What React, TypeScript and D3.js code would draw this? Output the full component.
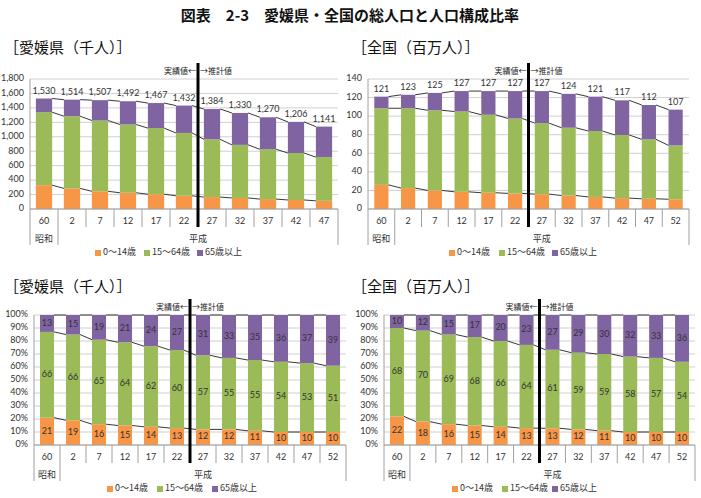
import React from "react";
import * as d3 from "d3";

const categories = ["60", "2", "7", "12", "17", "22", "27", "32", "37", "42", "47", "52"];
const eraLabels = ["昭和", "平成"];
const seriesNames = ["0～14歳", "15～64歳", "65歳以上"];
const seriesColors = ["#F79646", "#9BBB59", "#8064A2"];
const chartTitle = "図表　2-3　愛媛県・全国の総人口と人口構成比率";
const ehimeTitle = "［愛媛県（千人）］";
const japanTitle = "［全国（百万人）］";
const dividerLeft = "実績値←";
const dividerRight = "→推計値";

// 愛媛県 (千人) — 11 categories (昭和60 … 平成47)
const ehimeYoung = [330, 285, 245, 225, 205, 183, 165, 153, 137, 125, 113];
const ehimeWorking = [1010, 1000, 980, 945, 915, 870, 800, 735, 690, 650, 605];
const ehimeElderly = [190, 229, 282, 322, 347, 379, 419, 442, 443, 431, 423];
const ehimeTotal = [1530, 1514, 1507, 1492, 1467, 1432, 1384, 1330, 1270, 1206, 1141];

// 全国 (百万人) — 12 categories
const japanYoung = [26, 22.5, 20, 18.5, 17.5, 16.8, 16, 14.5, 13, 11.7, 11, 10.5];
const japanWorking = [82.5, 86, 86.3, 86.5, 84, 80.7, 76.5, 73, 71, 68, 64, 58];
const japanElderly = [12.5, 14.5, 18.7, 22, 25.5, 29.5, 34.5, 36.5, 37, 37.3, 37, 38.5];
const japanTotal = [121, 123, 125, 127, 127, 127, 127, 124, 121, 117, 112, 107];

// 構成比 (%)
const ehimeYoungPct = [21, 19, 16, 15, 14, 13, 12, 12, 11, 10, 10, 10];
const ehimeWorkingPct = [66, 66, 65, 64, 62, 60, 57, 55, 55, 54, 53, 51];
const ehimeElderlyPct = [13, 15, 19, 21, 24, 27, 31, 33, 35, 36, 37, 39];
const japanYoungPct = [22, 18, 16, 15, 14, 13, 13, 12, 11, 10, 10, 10];
const japanWorkingPct = [68, 70, 69, 68, 66, 64, 61, 59, 59, 58, 57, 54];
const japanElderlyPct = [10, 12, 15, 17, 20, 23, 27, 29, 30, 32, 33, 36];

const yTicksEhime = [0, 200, 400, 600, 800, 1000, 1200, 1400, 1600, 1800];
const yTicksJapan = [0, 20, 40, 60, 80, 100, 120, 140];
const yTicksPct = [0, 10, 20, 30, 40, 50, 60, 70, 80, 90, 100];

const NUM_FONT = "Lato, 'Noto Sans', sans-serif";
const JP_FONT = "'Noto Sans CJK JP', sans-serif";

type PanelProps = {
  title: string;
  titleX: number;
  titleY: number;
  cats: string[];
  series: number[][];
  segLabels?: number[][];
  totals?: number[];
  percent: boolean;
  ticks: number[];
  tickFmt: (v: number) => string;
  x0: number;
  x1: number;
  yTop: number;
  yBot: number;
  barRatio: number;
  legendX: number[];
  dividerIndex: number;
};

function Panel(p: PanelProps) {
  const n = p.cats.length;
  const keys = p.cats.map((c, i) => i + ":" + c);
  const x = d3
    .scaleBand<string>()
    .domain(keys)
    .range([p.x0, p.x1])
    .paddingInner(1 - p.barRatio)
    .paddingOuter((1 - p.barRatio) / 2);
  const band = (p.x1 - p.x0) / n;
  const bw = x.bandwidth();
  const maxV = p.ticks[p.ticks.length - 1];
  const y = d3.scaleLinear().domain([0, maxV]).range([p.yBot, p.yTop]);

  const rows = keys.map((k, i) => {
    const vals = p.series.map((s) => s[i]);
    const sum = d3.sum(vals);
    return p.percent ? vals.map((v) => (v / sum) * 100) : vals;
  });
  const cum = rows.map((r) => {
    let acc = 0;
    return r.map((v) => {
      const a = acc;
      acc += v;
      return [a, acc];
    });
  });

  const divX = p.x0 + p.dividerIndex * band;
  const axisY = p.yBot;

  return (
    <g>
      <text x={p.titleX} y={p.titleY} fontFamily={JP_FONT} fontSize={15} fill="#111" dominantBaseline="middle">
        {p.title}
      </text>
      {p.ticks.map((t) => (
        <line key={"g" + t} x1={p.x0} x2={p.x1} y1={y(t)} y2={y(t)} stroke="#D0D0D0" strokeWidth={1} />
      ))}
      {p.ticks.map((t) => (
        <text
          key={"yl" + t}
          x={p.x0 - 6}
          y={y(t)}
          textAnchor="end"
          dominantBaseline="middle"
          fontFamily={NUM_FONT}
          fontSize={9}
          fill="#333"
        >
          {p.tickFmt(t)}
        </text>
      ))}
      {keys.map((k, i) =>
        cum[i].map(([a, b], s) => (
          <rect
            key={k + s}
            x={x(k)}
            y={y(b)}
            width={bw}
            height={Math.max(0, y(a) - y(b))}
            fill={seriesColors[s]}
          />
        ))
      )}
      {[0, 1, 2].map((s) =>
        keys.slice(0, n - 1).map((k, i) => (
          <line
            key={"sl" + s + k}
            x1={(x(k) as number) + bw}
            y1={y(cum[i][s][1])}
            x2={x(keys[i + 1]) as number}
            y2={y(cum[i + 1][s][1])}
            stroke="#222"
            strokeWidth={0.9}
          />
        ))
      )}
      {p.segLabels &&
        keys.map((k, i) =>
          cum[i].map(([a, b], s) => (
            <text
              key={"lab" + k + s}
              x={(x(k) as number) + bw / 2}
              y={y((a + b) / 2)}
              textAnchor="middle"
              dominantBaseline="middle"
              fontFamily={NUM_FONT}
              fontSize={9}
              fill="#333"
            >
              {p.segLabels![s][i]}
            </text>
          ))
        )}
      {p.totals &&
        keys.map((k, i) => (
          <text
            key={"tot" + k}
            x={(x(k) as number) + bw / 2}
            y={y(p.totals![i]) - 5}
            textAnchor="middle"
            fontFamily={NUM_FONT}
            fontSize={9}
            fill="#333"
          >
            {d3.format(",")(p.totals![i])}
          </text>
        ))}
      <line x1={p.x0} x2={p.x0} y1={p.yTop} y2={axisY} stroke="#A0A0A0" />
      <line x1={p.x0} x2={p.x1} y1={axisY} y2={axisY} stroke="#A0A0A0" />
      {d3.range(n + 1).map((i) => {
        const long = i === 0 || i === 1 || i === n;
        const xx = p.x0 + i * band;
        return <line key={"sep" + i} x1={xx} x2={xx} y1={axisY} y2={axisY + (long ? 36 : 18)} stroke="#A0A0A0" />;
      })}
      {keys.map((k, i) => (
        <text
          key={"cat" + k}
          x={p.x0 + (i + 0.5) * band}
          y={axisY + 13}
          textAnchor="middle"
          dominantBaseline="middle"
          fontFamily={NUM_FONT}
          fontSize={9}
          fill="#333"
        >
          {p.cats[i]}
        </text>
      ))}
      <text
        x={p.x0 + 0.5 * band}
        y={axisY + 31}
        textAnchor="middle"
        dominantBaseline="middle"
        fontFamily={JP_FONT}
        fontSize={9}
        fill="#333"
      >
        {eraLabels[0]}
      </text>
      <text
        x={p.x0 + band + ((n - 1) * band) / 2}
        y={axisY + 31}
        textAnchor="middle"
        dominantBaseline="middle"
        fontFamily={JP_FONT}
        fontSize={9}
        fill="#333"
      >
        {eraLabels[1]}
      </text>
      <line x1={divX} x2={divX} y1={p.yTop - 16} y2={axisY + 18} stroke="#000" strokeWidth={3} />
      <text
        x={divX - 2}
        y={p.yTop - 7}
        textAnchor="end"
        dominantBaseline="middle"
        fontFamily={JP_FONT}
        fontSize={8}
        fill="#222"
      >
        {dividerLeft}
      </text>
      <text
        x={divX + 2}
        y={p.yTop - 7}
        textAnchor="start"
        dominantBaseline="middle"
        fontFamily={JP_FONT}
        fontSize={8}
        fill="#222"
      >
        {dividerRight}
      </text>
      {seriesNames.map((nm, s) => (
        <g key={"lg" + s}>
          <rect x={p.legendX[s]} y={axisY + 41} width={6} height={6} fill={seriesColors[s]} />
          <text
            x={p.legendX[s] + 8}
            y={axisY + 44}
            dominantBaseline="middle"
            fontFamily={JP_FONT}
            fontSize={9}
            fill="#333"
          >
            {nm}
          </text>
        </g>
      ))}
    </g>
  );
}

export default function App() {
  const comma = d3.format(",");
  const pct = (v: number) => v + "%";
  const plain = (v: number) => String(v);
  return (
    <svg
      width={701}
      height={498}
      style={{ position: "absolute", left: 0, top: 0, background: "#fff" }}
      xmlns="http://www.w3.org/2000/svg"
    >
      <rect x={0} y={0} width={701} height={498} fill="#fff" />
      <text
        x={350}
        y={17}
        textAnchor="middle"
        dominantBaseline="middle"
        fontFamily={JP_FONT}
        fontWeight="bold"
        fontSize={15}
        fill="#111"
      >
        {chartTitle}
      </text>
      <Panel
        title={ehimeTitle}
        titleX={4}
        titleY={49}
        cats={categories.slice(0, 11)}
        series={[ehimeYoung, ehimeWorking, ehimeElderly]}
        totals={ehimeTotal}
        percent={false}
        ticks={yTicksEhime}
        tickFmt={comma}
        x0={30}
        x1={338}
        yTop={79}
        yBot={209}
        barRatio={0.58}
        legendX={[95, 144, 197]}
        dividerIndex={6}
      />
      <Panel
        title={japanTitle}
        titleX={352}
        titleY={49}
        cats={categories}
        series={[japanYoung, japanWorking, japanElderly]}
        totals={japanTotal}
        percent={false}
        ticks={yTicksJapan}
        tickFmt={plain}
        x0={368}
        x1={689}
        yTop={79}
        yBot={209}
        barRatio={0.53}
        legendX={[449, 499, 552]}
        dividerIndex={6}
      />
      <Panel
        title={ehimeTitle}
        titleX={4}
        titleY={288}
        cats={categories}
        series={[ehimeYoungPct, ehimeWorkingPct, ehimeElderlyPct]}
        segLabels={[ehimeYoungPct, ehimeWorkingPct, ehimeElderlyPct]}
        percent={true}
        ticks={yTicksPct}
        tickFmt={pct}
        x0={34}
        x1={346}
        yTop={315}
        yBot={445}
        barRatio={0.54}
        legendX={[107, 157, 212]}
        dividerIndex={6}
      />
      <Panel
        title={japanTitle}
        titleX={352}
        titleY={288}
        cats={categories}
        series={[japanYoungPct, japanWorkingPct, japanElderlyPct]}
        segLabels={[japanYoungPct, japanWorkingPct, japanElderlyPct]}
        percent={true}
        ticks={yTicksPct}
        tickFmt={pct}
        x0={384}
        x1={695}
        yTop={315}
        yBot={445}
        barRatio={0.54}
        legendX={[452, 502, 552]}
        dividerIndex={6}
      />
    </svg>
  );
}
